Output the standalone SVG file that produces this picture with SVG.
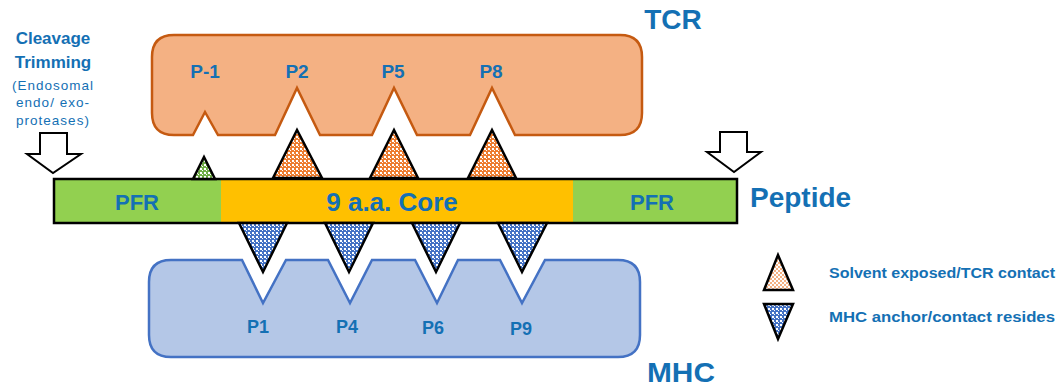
<svg xmlns="http://www.w3.org/2000/svg" width="1061" height="387" viewBox="0 0 1061 387">
<defs>
<pattern id="pOrange" width="4" height="4" patternUnits="userSpaceOnUse">
<rect width="4" height="4" fill="#ED7D31"/><rect width="2" height="2" fill="#ffffff"/><rect x="2" y="2" width="1" height="1" fill="#ffffff"/>
</pattern>
<pattern id="pOrangeL" width="4" height="4" patternUnits="userSpaceOnUse">
<rect width="4" height="4" fill="#ffffff"/><rect width="2" height="2" fill="#F4B183"/><rect x="2" y="2" width="2" height="2" fill="#F4B183"/>
</pattern>
<pattern id="pBlue" width="4" height="4" patternUnits="userSpaceOnUse">
<rect width="4" height="4" fill="#4472C4"/><rect width="2" height="2" fill="#ffffff"/><rect x="2" y="2" width="1" height="1" fill="#ffffff"/>
</pattern>
<pattern id="pGreen" width="4" height="4" patternUnits="userSpaceOnUse">
<rect width="4" height="4" fill="#70AD47"/><rect width="2" height="2" fill="#ffffff"/><rect x="2" y="2" width="1" height="1" fill="#ffffff"/>
</pattern>
</defs>
<style>
text{font-family:"Liberation Sans",Arial,sans-serif;fill:#1470B4;font-weight:bold}
.tri{stroke:#000;stroke-width:2.5;stroke-linejoin:miter}
.up{fill:url(#pOrange)}
.dn{fill:url(#pBlue)}
.arrow{fill:#fff;stroke:#000;stroke-width:2}
.small{font-weight:normal;font-size:13.5px;letter-spacing:1px}
</style>
<rect width="1061" height="387" fill="#ffffff"/>

<g id="tcr">
<path d="M174,35 H620 Q642,35 642,57 V113 Q642,135 620,135 H515 L492,88 L470,135 H417 L394,88 L372,135 H320 L297,88 L275,135 H218 L205,112 L193,135 H174 Q152,135 152,113 V57 Q152,35 174,35 Z" fill="#F4B183" stroke="#C55A11" stroke-width="2.5"/>
<text x="205" y="78" font-size="19" text-anchor="middle">P-1</text>
<text x="297" y="78" font-size="19" text-anchor="middle">P2</text>
<text x="393" y="78" font-size="19" text-anchor="middle">P5</text>
<text x="491" y="78" font-size="19" text-anchor="middle">P8</text>
<text x="673" y="29" font-size="28" text-anchor="middle">TCR</text>
</g>

<g id="mhc">
<path d="M171,260 H242 L263,303 L286,260 H328 L350,303 L372,260 H415 L437,303 L458,260 H500 L522,303 L545,260 H618 Q640,260 640,282 V335 Q640,357 618,357 H171 Q149,357 149,335 V282 Q149,260 171,260 Z" fill="#B4C7E7" stroke="#4472C4" stroke-width="2.5"/>
<text x="258" y="333" font-size="18" text-anchor="middle">P1</text>
<text x="347" y="333" font-size="18" text-anchor="middle">P4</text>
<text x="433" y="334" font-size="18" text-anchor="middle">P6</text>
<text x="521" y="335" font-size="18" text-anchor="middle">P9</text>
<text x="681" y="382" font-size="28" text-anchor="middle" textLength="68" lengthAdjust="spacingAndGlyphs">MHC</text>
</g>

<g id="peptide">
<rect x="54" y="179" width="683" height="44" fill="#92D050"/>
<rect x="221" y="179" width="352" height="44" fill="#FFC000"/>
<rect x="54" y="179" width="683" height="44" fill="none" stroke="#000" stroke-width="2.5"/>
<rect x="221" y="181" width="347" height="40" fill="#FFC000"/>
<text x="137" y="210" font-size="22" text-anchor="middle">PFR</text>
<text x="392" y="211" font-size="26" text-anchor="middle">9 a.a. Core</text>
<text x="652" y="210" font-size="22" text-anchor="middle">PFR</text>
<text x="750" y="207" font-size="28">Peptide</text>
</g>

<g id="residues">
<polygon class="tri" points="193,179 204,157 215,179" fill="url(#pGreen)"/>
<polygon class="tri up" points="273,178 297,130 322,178"/>
<polygon class="tri up" points="370,178 394,130 418,178"/>
<polygon class="tri up" points="468,178 492,130 516,178"/>
<polygon class="tri dn" points="239,223 263,272 287,223"/>
<polygon class="tri dn" points="325,223 349,272 373,223"/>
<polygon class="tri dn" points="412,223 436,272 460,223"/>
<polygon class="tri dn" points="498,223 522,272 547,223"/>
</g>

<g id="cleavage">
<text x="53" y="44" font-size="17" text-anchor="middle">Cleavage</text>
<text x="53" y="68" font-size="17" text-anchor="middle">Trimming</text>
<text class="small" x="53" y="90" text-anchor="middle">(Endosomal</text>
<text class="small" x="53" y="107" text-anchor="middle">endo/ exo-</text>
<text class="small" x="53" y="125" text-anchor="middle">proteases)</text>
</g>

<g id="connectors">
<polygon class="arrow" points="40,133 67,133 67,154 81,154 53,173 27,154 40,154"/>
<polygon class="arrow" points="720,132 747,132 747,152 761,152 734,172 707,152 720,152"/>
</g>

<g id="legend">
<polygon class="tri" points="764,290 778,255 793,290" fill="url(#pOrangeL)"/>
<polygon class="tri dn" points="764,304 793,304 778,339"/>
<text x="829" y="278" font-size="14.5" textLength="226" lengthAdjust="spacingAndGlyphs">Solvent exposed/TCR contact</text>
<text x="829" y="322" font-size="14.5" textLength="226" lengthAdjust="spacingAndGlyphs">MHC anchor/contact resides</text>
</g>
</svg>
